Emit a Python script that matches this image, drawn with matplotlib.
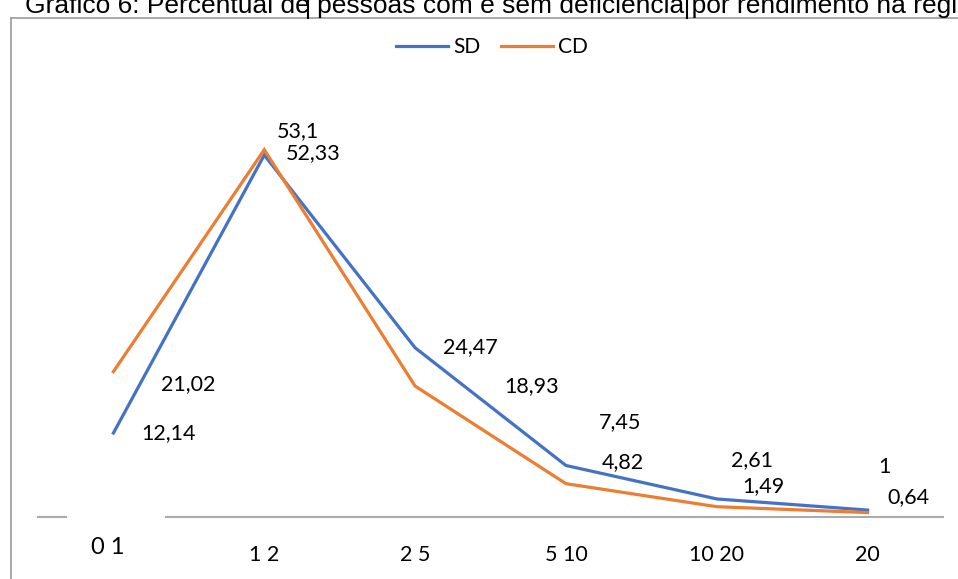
import matplotlib.pyplot as plt
from matplotlib.lines import Line2D

categorias = ['0 1', '1 2', '2 5', '5 10', '10 20', '20']
sd = [12.14, 52.33, 24.47, 7.45, 2.61, 1]
cd = [21.02, 53.1, 18.93, 4.82, 1.49, 0.64]
sd_rotulos = ['12,14', '52,33', '24,47', '7,45', '2,61', '1']
cd_rotulos = ['21,02', '53,1', '18,93', '4,82', '1,49', '0,64']

# deslocamento dos rótulos (pixels) em relação ao ponto
sd_off = [(55, 0), (49, 2), (55, 1), (54, 43), (35, 39), (17, 43)]
cd_off = [(75, -12), (34, 19), (117, 0), (57, 22), (47, 21), (41, 15)]

plt.rcParams['font.family'] = ['Lato', 'DejaVu Sans']

W, H = 958, 579
fig = plt.figure(figsize=(W / 100, H / 100), dpi=100)
ax = fig.add_axes([38 / W, (H - 517) / H, (943 - 38) / W, (517 - 102) / H])

x = list(range(len(categorias)))
azul = '#4472C4'
laranja = '#ED7D31'
ax.plot(x, sd, color=azul, lw=2.3, label='SD', solid_joinstyle='miter')
ax.plot(x, cd, color=laranja, lw=2.3, label='CD', solid_joinstyle='miter')

for i in x:
    ax.annotate(sd_rotulos[i], (i, sd[i]), xytext=sd_off[i], textcoords='offset pixels',
                ha='center', va='center', fontsize=15.5, color='black')
    ax.annotate(cd_rotulos[i], (i, cd[i]), xytext=cd_off[i], textcoords='offset pixels',
                ha='center', va='center', fontsize=15.5, color='black')

ax.set_xlim(-0.5, len(categorias) - 0.5)
ax.set_ylim(0, 60)
ax.axis('off')

# rótulos do eixo x
for i, c in enumerate(categorias):
    if i == 0:
        ax.annotate(c, (i - 0.04, 0), xytext=(0, -31), textcoords='offset pixels',
                    ha='center', va='center', fontsize=17)
    else:
        ax.annotate(c, (i, 0), xytext=(0, -38), textcoords='offset pixels',
                    ha='center', va='center', fontsize=15.5)

# linha do eixo (com falha sob o primeiro rótulo)
yb = (H - 517) / H
fig.add_artist(Line2D([38 / W, 66 / W], [yb, yb], color='#ABABAB', lw=1.5))
fig.add_artist(Line2D([166 / W, 943 / W], [yb, yb], color='#ABABAB', lw=1.5))

# moldura
yt = (H - 18) / H
fig.add_artist(Line2D([11 / W, 11 / W], [0, yt], color='#9A9A9A', lw=1.2))
fig.add_artist(Line2D([11 / W, 1], [yt, yt], color='#9A9A9A', lw=1.2))
for xv in (308, 687):
    fig.add_artist(Line2D([xv / W, xv / W], [yt, 1], color='black', lw=1.5))

fig.text(25 / W, 1 - 13 / H, 'Gráfico 6: Percentual de pessoas com e sem deficiência por rendimento na região',
         fontsize=19, va='baseline', ha='left', family=['Liberation Sans', 'DejaVu Sans'])

fig.legend(loc='center', bbox_to_anchor=(492 / W, 1 - 47 / H), ncol=2, frameon=False,
           fontsize=15, handlelength=2.5, handletextpad=0.25, columnspacing=1.0)

fig.savefig('out.png', dpi=100)
